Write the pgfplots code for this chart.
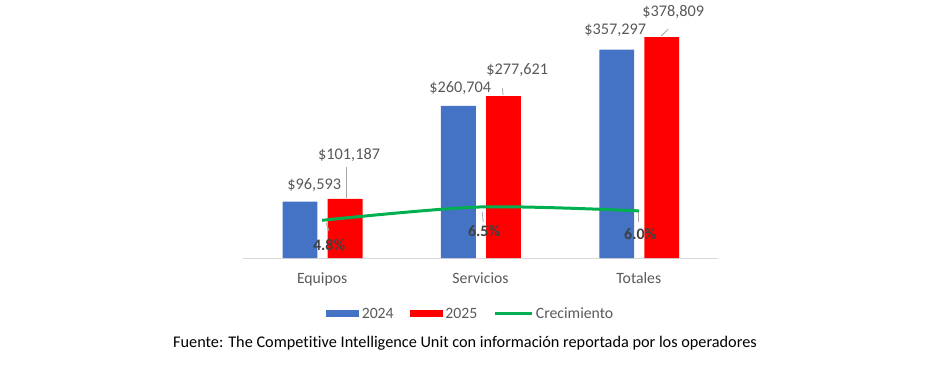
\documentclass[border=0pt]{standalone}
\usepackage{pgfplots}
\pgfplotsset{compat=1.18}
\usepackage{fontspec}
\setmainfont{Carlito}[Ligatures=NoCommon]
\definecolor{cblue}{HTML}{4472C4}
\definecolor{cred}{HTML}{FF0000}
\definecolor{cgreen}{HTML}{00B050}
\definecolor{lgray}{HTML}{595959}
\definecolor{dgray}{HTML}{404040}
\definecolor{axgray}{HTML}{D9D9D9}
\definecolor{leadgray}{HTML}{A6A6A6}
\begin{document}
\begin{tikzpicture}
\path[use as bounding box] (0,0) rectangle (700.5pt,276pt);
\begin{axis}[
  at={(182.25pt,82.5pt)}, anchor=south west,
  scale only axis, width=356.25pt, height=183.75pt,
  xmin=-0.5, xmax=2.5, ymin=0, ymax=420000,
  axis x line*=bottom, axis y line=none,
  x axis line style={-, draw=axgray, line width=0.75pt},
  xtick={0,1,2}, xticklabels={Equipos,Servicios,Totales},
  major tick length=0pt, ytick=\empty,
  xticklabel style={font=\fontsize{11.8pt}{14pt}\selectfont, text=lgray, yshift=-7.5pt},
  clip=false,
  ybar, bar width=0.22,
  legend style={at={(0.48,-0.19)}, anchor=north, draw=none, fill=none,
    legend columns=3, font=\fontsize{11.8pt}{14pt}\selectfont, text=lgray,
    /tikz/every even column/.append style={column sep=10pt},
    inner sep=0pt, row sep=0pt},
]
\addplot[fill=cblue, draw=none, bar shift=-0.14,
  legend image code/.code={\fill[cblue] (0pt,-2.6pt) rectangle (24.75pt,2.6pt);}]
  coordinates {(0,96593) (1,260704) (2,357297)};
\addlegendentry{2024}
\addplot[fill=cred, draw=none, bar shift=0.145,
  legend image code/.code={\fill[cred] (0pt,-2.6pt) rectangle (24.75pt,2.6pt);}]
  coordinates {(0,101187) (1,277621) (2,378809)};
\addlegendentry{2025}
\addlegendimage{legend image code/.code={\draw[cgreen, line width=2.25pt] (0pt,0pt) -- (27.75pt,0pt);}}
\addlegendentry{Crecimiento}
% value labels
\begin{scope}[every node/.style={font=\fontsize{12.2pt}{14pt}\selectfont, text=lgray, inner sep=0pt}]
\node at (axis cs:-0.05,125143) {\$96,593};
\node at (axis cs:0.17,176570) {\$101,187};
\node at (axis cs:0.872,291430) {\$260,704};
\node at (axis cs:1.232,322290) {\$277,621};
\node at (axis cs:1.851,390860) {\$357,297};
\node at (axis cs:2.217,421700) {\$378,809};
\end{scope}
\draw[leadgray, line width=0.6pt] (axis cs:0.152,156000) -- (axis cs:0.152,102860);
\draw[leadgray, line width=0.6pt] (axis cs:1.137,291400) -- (axis cs:1.143,279400);
\draw[leadgray, line width=0.6pt] (axis cs:2.186,392500) -- (axis cs:2.141,380500);
% growth labels
\begin{scope}[every node/.style={font=\fontsize{12pt}{14pt}\selectfont\bfseries, text=dgray, inner sep=0pt}]
\node at (axis cs:0.044,22290) {4.8\%};
\node at (axis cs:1.023,46280) {6.5\%};
\node at (axis cs:2.009,41140) {6.0\%};
\end{scope}
\draw[leadgray, line width=0.6pt] (axis cs:0.025,60000) -- (axis cs:0.044,46280);
\draw[leadgray, line width=0.6pt] (axis cs:1.011,78850) -- (axis cs:1.017,61710);
\draw[leadgray, line width=0.6pt] (axis cs:2.0,78850) -- (axis cs:2.0,61710);
\end{axis}
\begin{axis}[
  at={(182.25pt,82.5pt)}, anchor=south west,
  scale only axis, width=356.25pt, height=183.75pt,
  xmin=-0.5, xmax=2.5, ymin=0, ymax=31.2,
  hide axis, clip=false,
]
\addplot[cgreen, line width=2.25pt, smooth, no markers] coordinates {(0,4.8) (1,6.5) (2,6.0)};
\end{axis}
\node[font=\fontsize{12.2pt}{14pt}\selectfont, text=black, inner sep=0pt] at (348.75pt,18.8pt)
  {Fuente: The Competitive Intelligence Unit con información reportada por los operadores};
\end{tikzpicture}
\end{document}
